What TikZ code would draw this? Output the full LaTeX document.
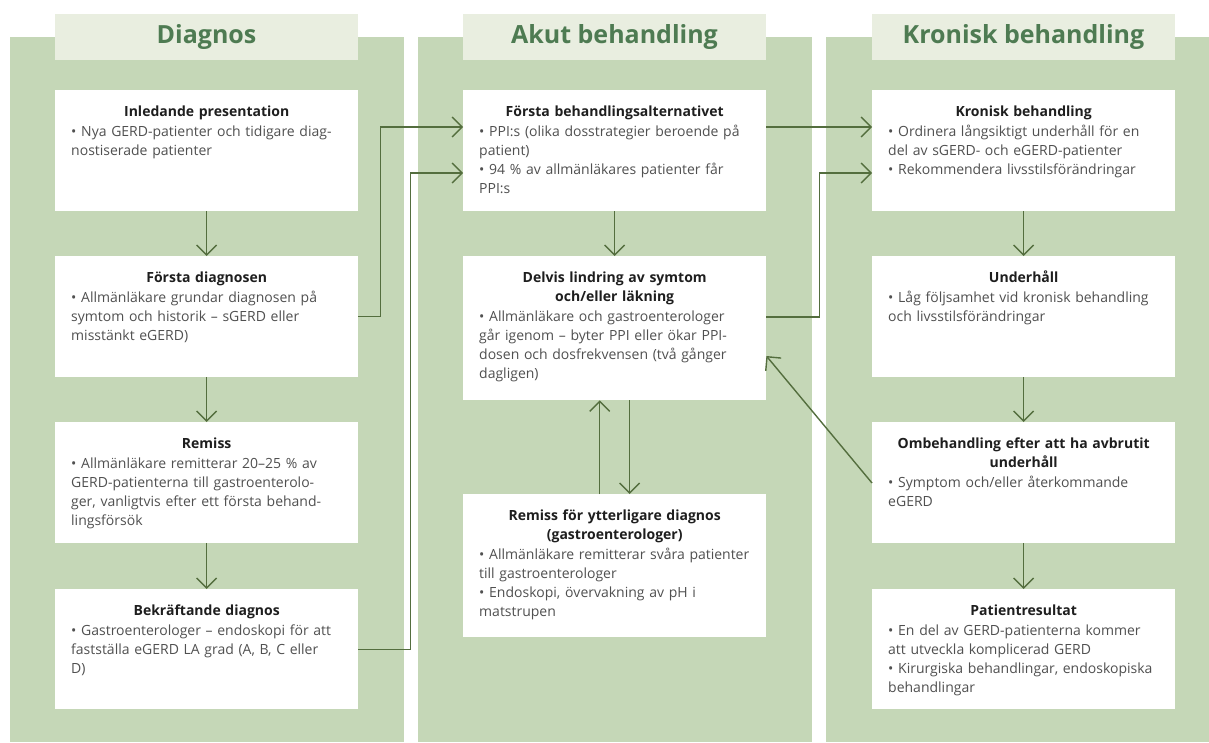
\documentclass[tikz,border=0pt]{standalone}
\usepackage{fontspec}
\setmainfont{Open Sans}
\usetikzlibrary{arrows.meta,calc}
\definecolor{panelc}{RGB}{197,215,183}
\definecolor{headbg}{RGB}{233,238,224}
\definecolor{headtxt}{RGB}{78,123,82}
\definecolor{arrc}{RGB}{84,110,62}
\definecolor{bodytxt}{RGB}{80,80,80}
\definecolor{titletxt}{RGB}{30,30,30}
\newcommand{\bl}[1]{\par\hangindent=10pt\hangafter=1\noindent\makebox[10pt][l]{\textbullet}#1\par}
\tikzset{
  panelbox/.style={fill=panelc},
  headbox/.style={fill=headbg, minimum width=303pt, minimum height=46pt, inner sep=0pt,
    font=\fontsize{25}{30}\selectfont\bfseries, text=headtxt},
  wbox/.style={fill=white, minimum width=303pt, inner sep=0pt, anchor=north west},
  ttlnode/.style={anchor=base, text width=303pt, align=center, inner sep=0pt,
    font=\fontsize{14}{19}\selectfont\bfseries, text=titletxt},
  bodynode/.style={anchor=base west, text width=285pt, inner sep=0pt,
    font=\fontsize{14}{19}\selectfont\raggedright, text=bodytxt},
  arr/.style={draw=arrc, line width=1.4pt, -{Straight Barb[length=10pt,width=20pt]}}
}
\begin{document}
\begin{tikzpicture}[x=1pt,y=-1pt]
\useasboundingbox (0,0) rectangle (1209,742);
% panels
\fill[panelbox] (10,37) rectangle (404,742);
\fill[panelbox] (418,37) rectangle (812,742);
\fill[panelbox] (826,37) rectangle (1209,742);
% headers
\node[headbox] (hd) at (206.5,37) {Diagnos};
\node[headbox] (ha) at (614.5,37) {Akut behandling};
\node[headbox] (hk) at (1023.5,37) {Kronisk behandling};
% Diagnos boxes
\node[wbox, minimum height=121pt] (d1) at (55,90) {};
\node[wbox, minimum height=121pt] (d2) at (55,256) {};
\node[wbox, minimum height=121pt] (d3) at (55,422) {};
\node[wbox, minimum height=120pt] (d4) at (55,589) {};
% Akut boxes
\node[wbox, minimum height=121pt] (a1) at (463,90) {};
\node[wbox, minimum height=144pt] (a2) at (463,256) {};
\node[wbox, minimum height=143pt] (a3) at (463,494) {};
% Kronisk boxes
\node[wbox, minimum height=121pt] (k1) at (872,90) {};
\node[wbox, minimum height=121pt] (k2) at (872,256) {};
\node[wbox, minimum height=121pt] (k3) at (872,422) {};
\node[wbox, minimum height=120pt] (k4) at (872,589) {};
% texts Diagnos
\node[ttlnode] (d1t) at ($(d1.north)+(0,26)$) {Inledande presentation};
\node[bodynode] (d1b) at ($(d1.north west)+(16,27.5)$) {\bl{Nya GERD-patienter och tidigare diag-\\nostiserade patienter}};
\node[ttlnode] (d2t) at ($(d2.north)+(0,26)$) {Första diagnosen};
\node[bodynode] (d2b) at ($(d2.north west)+(16,27.5)$) {\bl{Allmänläkare grundar diagnosen på\\symtom och historik – sGERD eller\\misstänkt eGERD)}};
\node[ttlnode] (d3t) at ($(d3.north)+(0,26)$) {Remiss};
\node[bodynode] (d3b) at ($(d3.north west)+(16,27.5)$) {\bl{Allmänläkare remitterar 20–25 \% av\\GERD-patienterna till gastroenterolo-\\ger, vanligtvis efter ett första behand-\\lingsförsök}};
\node[ttlnode] (d4t) at ($(d4.north)+(0,26)$) {Bekräftande diagnos};
\node[bodynode] (d4b) at ($(d4.north west)+(16,27.5)$) {\bl{Gastroenterologer – endoskopi för att\\fastställa eGERD LA grad (A, B, C eller\\D)}};
% texts Akut
\node[ttlnode] (a1t) at ($(a1.north)+(0,26)$) {Första behandlingsalternativet};
\node[bodynode] (a1b) at ($(a1.north west)+(16,27.5)$) {\bl{PPI:s (olika dosstrategier beroende på\\patient)}\bl{94 \% av allmänläkares patienter får\\PPI:s}};
\node[ttlnode] (a2t) at ($(a2.north)+(0,26)$) {Delvis lindring av symtom\\och/eller läkning};
\node[bodynode] (a2b) at ($(a2.north west)+(16,46.5)$) {\bl{Allmänläkare och gastroenterologer\\går igenom – byter PPI eller ökar PPI-\\dosen och dosfrekvensen (två gånger\\dagligen)}};
\node[ttlnode] (a3t) at ($(a3.north)+(0,26)$) {Remiss för ytterligare diagnos\\(gastroenterologer)};
\node[bodynode] (a3b) at ($(a3.north west)+(16,46.5)$) {\bl{Allmänläkare remitterar svåra patienter\\till gastroenterologer}\bl{Endoskopi, övervakning av pH i\\matstrupen}};
% texts Kronisk
\node[ttlnode] (k1t) at ($(k1.north)+(0,26)$) {Kronisk behandling};
\node[bodynode] (k1b) at ($(k1.north west)+(16,27.5)$) {\bl{Ordinera långsiktigt underhåll för en\\del av sGERD- och eGERD-patienter}\bl{Rekommendera livsstilsförändringar}};
\node[ttlnode] (k2t) at ($(k2.north)+(0,26)$) {Underhåll};
\node[bodynode] (k2b) at ($(k2.north west)+(16,27.5)$) {\bl{Låg följsamhet vid kronisk behandling\\och livsstilsförändringar}};
\node[ttlnode] (k3t) at ($(k3.north)+(0,26)$) {Ombehandling efter att ha avbrutit\\underhåll};
\node[bodynode] (k3b) at ($(k3.north west)+(16,46.5)$) {\bl{Symptom och/eller återkommande\\eGERD}};
\node[ttlnode] (k4t) at ($(k4.north)+(0,26)$) {Patientresultat};
\node[bodynode] (k4b) at ($(k4.north west)+(16,27.5)$) {\bl{En del av GERD-patienterna kommer\\att utveckla komplicerad GERD}\bl{Kirurgiska behandlingar, endoskopiska\\behandlingar}};
% vertical arrows
\draw[arr] (d1.south) -- (d2.north);
\draw[arr] (d2.south) -- (d3.north);
\draw[arr] (d3.south) -- (d4.north);
\draw[arr] (a1.south) -- (a2.north);
\draw[arr] ($(a3.north)+(-15,0)$) -- ($(a2.south)+(-15,0)$);
\draw[arr] ($(a2.south)+(15,0)$) -- ($(a3.north)+(15,0)$);
\draw[arr] (k1.south) -- (k2.north);
\draw[arr] (k2.south) -- (k3.north);
\draw[arr] (k3.south) -- (k4.north);
% cross-column connectors
\draw[arr] (d2.east) -- ++(22,0) |- ($(a1.north west)+(0,37)$);
\draw[arr] (d4.east) -- ++(52,0) |- ($(a1.north west)+(0,83)$);
\draw[arr] ($(a1.north east)+(0,37)$) -- ($(k1.north west)+(0,37)$);
\draw[arr] ($(a2.north east)+(0,61)$) -- ++(53,0) |- ($(k1.north west)+(0,83)$);
\draw[arr] ($(k3.north west)+(0,61)$) -- ($(a2.north east)+(0,100)$);
\end{tikzpicture}
\end{document}
